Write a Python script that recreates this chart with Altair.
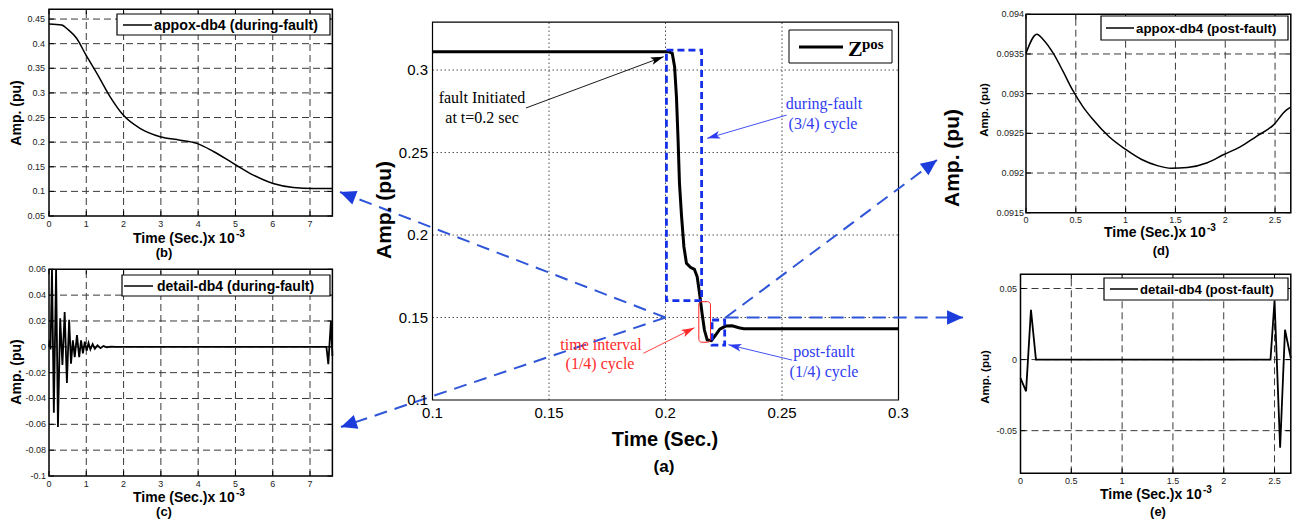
import math
import altair as alt
import pandas as pd

# ============================ DATA ============================
# (a) Zpos vs time (s)
zpos_t = [0.1, 0.2014, 0.2029, 0.2039, 0.2047, 0.2054, 0.2060, 0.2069, 0.2079, 0.2090,
          0.2107, 0.2124, 0.2136, 0.2146, 0.2157, 0.2167, 0.2179, 0.2197, 0.2215, 0.2233,
          0.2258, 0.2286, 0.2315, 0.2336, 0.3]
zpos_v = [0.3111, 0.3111, 0.3101, 0.3020, 0.2838, 0.2576, 0.2313, 0.2111, 0.1929, 0.1828,
          0.1804, 0.1792, 0.1747, 0.1647, 0.1525, 0.1424, 0.1364, 0.1360, 0.1394, 0.1430,
          0.1448, 0.1450, 0.1438, 0.1432, 0.1432]

# annotation boxes in (a): x0, x1, y0, y1
during_box = [0.2004, 0.2155, 0.1602, 0.3121]
post_box = [0.2200, 0.2254, 0.1333, 0.1485]
interval_box = [0.2143, 0.2193, 0.1350, 0.1596]

# dashed "zoom" arrows in (a) (data units of panel a)
zoom_x0 = [0.2, 0.2, 0.2258, 0.2258]
zoom_y0 = [0.15, 0.15, 0.15, 0.15]
zoom_x1 = [0.0603, 0.0607, 0.3165, 0.3277]
zoom_y1 = [0.2261, 0.0836, 0.2455, 0.15]

# thin annotation arrows in (a)
note_x0 = [0.1401, 0.2520, 0.1905, 0.2543]
note_y0 = [0.2770, 0.2727, 0.1283, 0.1242]
note_x1 = [0.1992, 0.2179, 0.2124, 0.2270]
note_y1 = [0.3081, 0.2586, 0.1438, 0.1335]
note_col = ["black", "#2f3cf0", "#ff2a2a", "#2f3cf0"]

# (b) approx-db4 during fault (time x 1e-3 s)
b_t = [0, 0.34, 0.52, 0.74, 0.99, 1.28, 1.64, 1.99, 2.44, 2.98, 3.51, 3.96, 4.41, 4.94,
       5.48, 6.01, 6.55, 7.09, 7.6]
b_v = [0.440, 0.438, 0.428, 0.411, 0.377, 0.340, 0.292, 0.255, 0.228, 0.211, 0.204, 0.1975,
       0.181, 0.157, 0.133, 0.116, 0.108, 0.106, 0.106]

# (c) detail-db4 during fault
c_t = [0, 0.02, 0.04, 0.08, 0.13, 0.19, 0.24, 0.30, 0.36, 0.42, 0.48, 0.54, 0.59, 0.64,
       0.69, 0.75, 0.81, 0.86, 0.91, 0.96, 1.01, 1.06, 1.11, 1.17, 1.23, 1.30, 1.38, 1.46,
       1.55, 1.65, 1.80, 7.44, 7.49, 7.56, 7.6]
c_v = [0, 0.005, -0.002, 0.1, -0.051, 0.1, -0.062, 0.022, -0.014, 0.027, -0.028, 0.021,
       -0.013, 0.005, -0.008, 0.009, -0.008, 0.005, -0.005, 0.004, -0.003, 0.003, -0.002,
       0.002, -0.0015, 0.0012, -0.001, 0.0007, -0.0004, 0.0002, 0, 0, -0.0135, 0.02, -0.007]

# (d) approx-db4 post fault
d_t = [0, 0.109, 0.174, 0.273, 0.372, 0.470, 0.569, 0.668, 0.832, 0.997, 1.161, 1.326,
       1.457, 1.62, 1.82, 1.98, 2.15, 2.31, 2.48, 2.61, 2.658]
d_v = [0.09351, 0.09375, 0.09368, 0.09351, 0.09328, 0.09304, 0.09284, 0.09268, 0.09246,
       0.09230, 0.09217, 0.09209, 0.09206, 0.09207, 0.09213, 0.09223, 0.09233, 0.09246,
       0.09260, 0.09279, 0.09283]

# (e) detail-db4 post fault
e_t = [0, 0.055, 0.103, 0.152, 2.46, 2.50, 2.555, 2.603, 2.66]
e_v = [-0.013, -0.0223, 0.035, 0, 0, 0.0415, -0.062, 0.021, 0.001]

# tick labels
a_xt = [0.1, 0.15, 0.2, 0.25, 0.3]
a_xl = ["0.1", "0.15", "0.2", "0.25", "0.3"]
a_yt = [0.1, 0.15, 0.2, 0.25, 0.3]
a_yl = ["0.1", "0.15", "0.2", "0.25", "0.3"]
bc_xt = [0, 1, 2, 3, 4, 5, 6, 7]
bc_xl = ["0", "1", "2", "3", "4", "5", "6", "7"]
b_yt = [0.05, 0.1, 0.15, 0.2, 0.25, 0.3, 0.35, 0.4, 0.45]
b_yl = ["0.05", "0.1", "0.15", "0.2", "0.25", "0.3", "0.35", "0.4", "0.45"]
c_yt = [-0.1, -0.08, -0.06, -0.04, -0.02, 0, 0.02, 0.04, 0.06]
c_yl = ["-0.1", "-0.08", "-0.06", "-0.04", "-0.02", "0", "0.02", "0.04", "0.06"]
de_xt = [0, 0.5, 1, 1.5, 2, 2.5]
de_xl = ["0", "0.5", "1", "1.5", "2", "2.5"]
d_yt = [0.0915, 0.092, 0.0925, 0.093, 0.0935, 0.094]
d_yl = ["0.0915", "0.092", "0.0925", "0.093", "0.0935", "0.094"]
e_yt = [-0.05, 0, 0.05]
e_yl = ["-0.05", "0", "0.05"]

# ============================ LAYOUT ============================
SANS = "Liberation Sans, Arial, Helvetica, DejaVu Sans, sans-serif"
SERIF = "Liberation Serif, Times New Roman, Times, DejaVu Serif, serif"
ONE = pd.DataFrame({"k": [0]})


def X(px):
    return px - 8


def Y(py):
    return py - 8


# page-pixel placement of each panel's plot area
PAN = {
    "a": dict(xdom=[0.1, 0.3], xpx=[432.5, 898.5], ydom=[0.1, 0.329], ypx=[400, 22.2]),
    "b": dict(xdom=[0, 7.6], xpx=[49, 332.4], ydom=[0.05, 0.47], ypx=[216, 9.2]),
    "c": dict(xdom=[0, 7.6], xpx=[49, 332.4], ydom=[-0.1, 0.06], ypx=[476, 269.3]),
    "d": dict(xdom=[0, 2.658], xpx=[1026, 1290.8], ydom=[0.0915, 0.094], ypx=[212.7, 14.3]),
    "e": dict(xdom=[0, 2.66], xpx=[1020.5, 1290.8], ydom=[-0.08, 0.06], ypx=[473.3, 274.3]),
}


def sc(k, ax, clamp=False):
    p = PAN[k]
    if ax == "x":
        dom, rng = p["xdom"], [X(v) for v in p["xpx"]]
    else:
        dom, rng = p["ydom"], [Y(v) for v in p["ypx"]]
    kw = dict(domain=dom, range=rng, nice=False, zero=False)
    if clamp:
        kw["clamp"] = True
    return alt.Scale(**kw)


def fx(k, f):
    return alt.X(f"{f}:Q", scale=sc(k, "x"), axis=None)


def fy(k, f, clamp=False):
    return alt.Y(f"{f}:Q", scale=sc(k, "y", clamp), axis=None)


def to_px(k, xv, yv):
    p = PAN[k]
    (a0, a1), (A0, A1) = p["xdom"], p["xpx"]
    (b0, b1), (B0, B1) = p["ydom"], p["ypx"]
    return A0 + (xv - a0) / (a1 - a0) * (A1 - A0), B0 + (yv - b0) / (b1 - b0) * (B1 - B0)


def heading(k, xa, ya, xb, yb):
    ax, ay = to_px(k, xa, ya)
    bx, by = to_px(k, xb, yb)
    return math.degrees(math.atan2(bx - ax, -(by - ay))) % 360


def txt(s, x, y, size, bold=False, font=SANS, color="black", align="center", angle=0):
    kw = dict(text=s, fontSize=size, fontWeight="bold" if bold else "normal", font=font,
              color=color, align=align, baseline="middle")
    if angle:
        kw["angle"] = angle
    return alt.Chart(ONE).mark_text(**kw).encode(x=alt.value(X(x)), y=alt.value(Y(y)))


def vrect(x0, y0, x1, y1, **kw):
    return alt.Chart(ONE).mark_rect(**kw).encode(
        x=alt.value(X(x0)), x2=alt.value(X(x1)), y=alt.value(Y(y0)), y2=alt.value(Y(y1)))


def hline(x0, x1, y, **kw):
    return alt.Chart(ONE).mark_rule(**kw).encode(
        x=alt.value(X(x0)), x2=alt.value(X(x1)), y=alt.value(Y(y)))


HEAD = "M0,0L0.9,2L-0.9,2Z"
BARB = "M0,0L0.45,1.5L0,1.15L-0.45,1.5Z"


def side_panel(k, t, v, interp, lw, xg, yg, xt, xl, yt, yl, ylab_right, xlab_y,
               leg, leg_text, leg_size, xtitle, ytitle, tag, clamp=False):
    p = PAN[k]
    (x0, x1), (y0, y1) = p["xdom"], p["ydom"]
    L = []
    gv = pd.DataFrame({"g": xg, "lo": y0, "hi": y1})
    L.append(alt.Chart(gv).mark_rule(color="#3a3a3a", strokeWidth=1, strokeDash=[7, 4]).encode(
        x=fx(k, "g"), y=fy(k, "lo", clamp), y2="hi"))
    gh = pd.DataFrame({"g": yg, "lo": x0, "hi": x1})
    L.append(alt.Chart(gh).mark_rule(color="#3a3a3a", strokeWidth=1, strokeDash=[7, 4]).encode(
        y=fy(k, "g", clamp), x=fx(k, "lo"), x2="hi"))
    # inward tick marks on the four frame edges
    tx_df = pd.DataFrame({"v": xt, "lo": y0, "hi": y1})
    L.append(alt.Chart(tx_df).mark_tick(orient="vertical", size=5, thickness=1, color="black",
                                        yOffset=-2.5, opacity=1).encode(
        x=fx(k, "v"), y=fy(k, "lo", clamp)))
    L.append(alt.Chart(tx_df).mark_tick(orient="vertical", size=5, thickness=1, color="black",
                                        yOffset=2.5, opacity=1).encode(
        x=fx(k, "v"), y=fy(k, "hi", clamp)))
    ty_df = pd.DataFrame({"v": yt, "lo": x0, "hi": x1})
    L.append(alt.Chart(ty_df).mark_tick(orient="horizontal", size=5, thickness=1, color="black",
                                        xOffset=2.5, opacity=1).encode(
        y=fy(k, "v", clamp), x=fx(k, "lo")))
    L.append(alt.Chart(ty_df).mark_tick(orient="horizontal", size=5, thickness=1, color="black",
                                        xOffset=-2.5, opacity=1).encode(
        y=fy(k, "v", clamp), x=fx(k, "hi")))
    fr = pd.DataFrame({"x0": [x0], "x1": [x1], "y0": [y0], "y1": [y1]})
    L.append(alt.Chart(fr).mark_rect(filled=False, stroke="black", strokeWidth=1.5).encode(
        x=fx(k, "x0"), x2="x1", y=fy(k, "y0", clamp), y2="y1"))
    ln = pd.DataFrame({"t": t, "v": v})
    L.append(alt.Chart(ln).mark_line(color="black", strokeWidth=lw, interpolate=interp).encode(
        x=fx(k, "t"), y=fy(k, "v", clamp)))
    xlab = pd.DataFrame({"v": xt, "lab": xl})
    L.append(alt.Chart(xlab).mark_text(font=SANS, fontSize=9, color="#222", baseline="middle").encode(
        x=fx(k, "v"), y=alt.value(Y(xlab_y)), text="lab:N"))
    ylab = pd.DataFrame({"v": yt, "lab": yl})
    L.append(alt.Chart(ylab).mark_text(font=SANS, fontSize=9, color="#222", align="right",
                                       baseline="middle").encode(
        y=fy(k, "v", clamp), x=alt.value(X(ylab_right)), text="lab:N"))
    bx0, by0, bx1, by1, lx0, lx1, ly, tx = leg
    L.append(vrect(bx0, by0, bx1, by1, fill="white", stroke="black", strokeWidth=1.2))
    L.append(hline(lx0, lx1, ly, color="black", strokeWidth=1.5))
    L.append(txt(leg_text, tx, ly + 0.5, leg_size, bold=True, align="left"))
    # titles
    L.append(txt("Time (Sec.)x 10", xtitle[0], xtitle[1], 14, bold=True, align="left"))
    L.append(txt("-3", xtitle[0] + 103, xtitle[1] - 5, 10, bold=True, align="left"))
    L.append(txt(tag[0], tag[1], tag[2], 13, bold=True))
    L.append(txt("Amp. (pu)", ytitle[0], ytitle[1], ytitle[2], bold=True, angle=270))
    return alt.layer(*L)


# ---------------- panel (a) ----------------
def center_panel():
    k = "a"
    p = PAN[k]
    (x0, x1), (y0, y1) = p["xdom"], p["ydom"]
    L = []
    gv = pd.DataFrame({"g": [0.15, 0.2, 0.25], "lo": y0, "hi": y1})
    L.append(alt.Chart(gv).mark_rule(color="#222", strokeWidth=0.8, strokeDash=[1.5, 2.5]).encode(
        x=fx(k, "g"), y=fy(k, "lo"), y2="hi"))
    gh = pd.DataFrame({"g": [0.15, 0.2, 0.25, 0.3], "lo": x0, "hi": x1})
    L.append(alt.Chart(gh).mark_rule(color="#222", strokeWidth=0.8, strokeDash=[1.5, 2.5]).encode(
        y=fy(k, "g"), x=fx(k, "lo"), x2="hi"))
    fr = pd.DataFrame({"x0": [x0], "x1": [x1], "y0": [y0], "y1": [y1]})
    L.append(alt.Chart(fr).mark_rect(filled=False, stroke="black", strokeWidth=1.2).encode(
        x=fx(k, "x0"), x2="x1", y=fy(k, "y0"), y2="y1"))
    # curve
    ln = pd.DataFrame({"t": zpos_t, "v": zpos_v})
    L.append(alt.Chart(ln).mark_line(color="black", strokeWidth=3).encode(
        x=fx(k, "t"), y=fy(k, "v")))
    # boxes
    bx = pd.DataFrame([during_box, post_box], columns=["x0", "x1", "y0", "y1"])
    L.append(alt.Chart(bx).mark_rect(filled=False, stroke="#1530e8", strokeWidth=2.8,
                                     strokeDash=[7, 4]).encode(
        x=fx(k, "x0"), x2="x1", y=fy(k, "y0"), y2="y1"))
    rb = pd.DataFrame([interval_box], columns=["x0", "x1", "y0", "y1"])
    L.append(alt.Chart(rb).mark_rect(filled=False, stroke="#ff2020", strokeWidth=1,
                                     cornerRadius=3).encode(
        x=fx(k, "x0"), x2="x1", y=fy(k, "y0"), y2="y1"))
    # dashed zoom arrows
    za = pd.DataFrame({"x0": zoom_x0, "y0": zoom_y0, "x1": zoom_x1, "y1": zoom_y1})
    za["ang"] = [heading(k, a, b, c, d) for a, b, c, d in zip(zoom_x0, zoom_y0, zoom_x1, zoom_y1)]
    L.append(alt.Chart(za).mark_rule(color="#2f55d8", strokeWidth=2, strokeDash=[13, 8]).encode(
        x=fx(k, "x0"), y=fy(k, "y0"), x2="x1", y2="y1"))
    L.append(alt.Chart(za).mark_point(shape=HEAD, filled=True, size=256, color="#1c3ddc",
                                      opacity=1).encode(
        x=fx(k, "x1"), y=fy(k, "y1"), angle=alt.Angle("ang:Q", scale=None)))
    # thin annotation arrows
    na = pd.DataFrame({"x0": note_x0, "y0": note_y0, "x1": note_x1, "y1": note_y1, "c": note_col})
    na["ang"] = [heading(k, a, b, c, d) for a, b, c, d in zip(note_x0, note_y0, note_x1, note_y1)]
    L.append(alt.Chart(na).mark_rule(strokeWidth=0.9).encode(
        x=fx(k, "x0"), y=fy(k, "y0"), x2="x1", y2="y1", color=alt.Color("c:N", scale=None)))
    L.append(alt.Chart(na).mark_point(shape=BARB, filled=True, size=300, opacity=1).encode(
        x=fx(k, "x1"), y=fy(k, "y1"), angle=alt.Angle("ang:Q", scale=None),
        color=alt.Color("c:N", scale=None)))
    # tick labels
    xlab = pd.DataFrame({"v": a_xt, "lab": a_xl})
    L.append(alt.Chart(xlab).mark_text(font=SANS, fontSize=15, color="black", baseline="middle").encode(
        x=fx(k, "v"), y=alt.value(Y(413)), text="lab:N"))
    ylab = pd.DataFrame({"v": a_yt, "lab": a_yl})
    L.append(alt.Chart(ylab).mark_text(font=SANS, fontSize=15, color="black", align="right",
                                       baseline="middle").encode(
        y=fy(k, "v"), x=alt.value(X(428)), text="lab:N"))
    # legend
    L.append(vrect(789, 30, 892, 63, fill="white", stroke="black", strokeWidth=1))
    L.append(hline(799, 843, 47, color="black", strokeWidth=3))
    L.append(txt("Z", 848, 49, 22, bold=True, font=SERIF, align="left"))
    L.append(txt("pos", 862, 44, 15, bold=True, font=SERIF, align="left"))
    # annotations
    L.append(txt("fault Initiated", 482, 98, 16, font=SERIF))
    L.append(txt("at t=0.2 sec", 482, 118, 16, font=SERIF))
    L.append(txt("during-fault", 824, 104, 16, font=SERIF, color="#2f3cf0"))
    L.append(txt("(3/4) cycle", 823, 124, 16, font=SERIF, color="#2f3cf0"))
    L.append(txt("time interval", 601, 345, 16, font=SERIF, color="#ff2a2a"))
    L.append(txt("(1/4) cycle", 600, 364, 16, font=SERIF, color="#ff2a2a"))
    L.append(txt("post-fault", 824, 352, 16, font=SERIF, color="#2f3cf0"))
    L.append(txt("(1/4) cycle", 824, 372, 16, font=SERIF, color="#2f3cf0"))
    # titles
    L.append(txt("Time (Sec.)", 665, 440, 20, bold=True))
    L.append(txt("(a)", 664, 467, 17, bold=True))
    L.append(txt("Amp. (pu)", 385, 210, 21, bold=True, angle=270))
    L.append(txt("Amp. (pu)", 953, 158, 21, bold=True, angle=270))
    return alt.layer(*L)


panel_a = center_panel()
panel_b = side_panel("b", b_t, b_v, "monotone", 1.5,
                     [1, 2, 3, 4, 5, 6, 7], [0.1, 0.15, 0.2, 0.25, 0.3, 0.35, 0.4, 0.45],
                     bc_xt, bc_xl, b_yt, b_yl, 45, 224,
                     (117, 14, 330, 35, 123, 152, 25, 154), "appox-db4 (during-fault)", 14.2,
                     (133, 239), (17, 113, 14), ("(b)", 164, 253))
panel_c = side_panel("c", c_t, c_v, "linear", 1.8,
                     [1, 2, 3, 4, 5, 6, 7], [-0.08, -0.06, -0.04, -0.02, 0, 0.02, 0.04],
                     bc_xt, bc_xl, c_yt, c_yl, 46, 484,
                     (122, 275, 330, 296, 124, 153, 286, 157), "detail-db4 (during-fault)", 14,
                     (133, 498), (17, 372, 14), ("(c)", 164, 512), clamp=True)
panel_d = side_panel("d", d_t, d_v, "monotone", 1.5,
                     [0.5, 1, 1.5, 2, 2.5], [0.092, 0.0925, 0.093, 0.0935],
                     de_xt, de_xl, d_yt, d_yl, 1024, 220,
                     (1101, 16, 1288, 40, 1106, 1134, 28, 1136), "appox-db4 (post-fault)", 13.3,
                     (1104, 233), (985, 110, 11.5), ("(d)", 1161, 251))
panel_e = side_panel("e", e_t, e_v, "linear", 1.8,
                     [0.5, 1, 1.5, 2, 2.5], [-0.05, 0, 0.05],
                     de_xt, de_xl, e_yt, e_yl, 1017, 481,
                     (1104, 278, 1288, 300, 1110, 1138, 289, 1140), "detail-db4 (post-fault)", 13.1,
                     (1100, 495), (986, 377, 11.5), ("(e)", 1158, 512))

chart = alt.layer(panel_b, panel_c, panel_d, panel_e, panel_a).resolve_scale(
    x="independent", y="independent"
).properties(
    width=1284, height=512, padding=0, autosize=alt.AutoSizeParams(type="none"),
    background="white",
).configure_view(stroke=None)

chart.save("out.html", embed_options={"renderer": "svg", "actions": False})
